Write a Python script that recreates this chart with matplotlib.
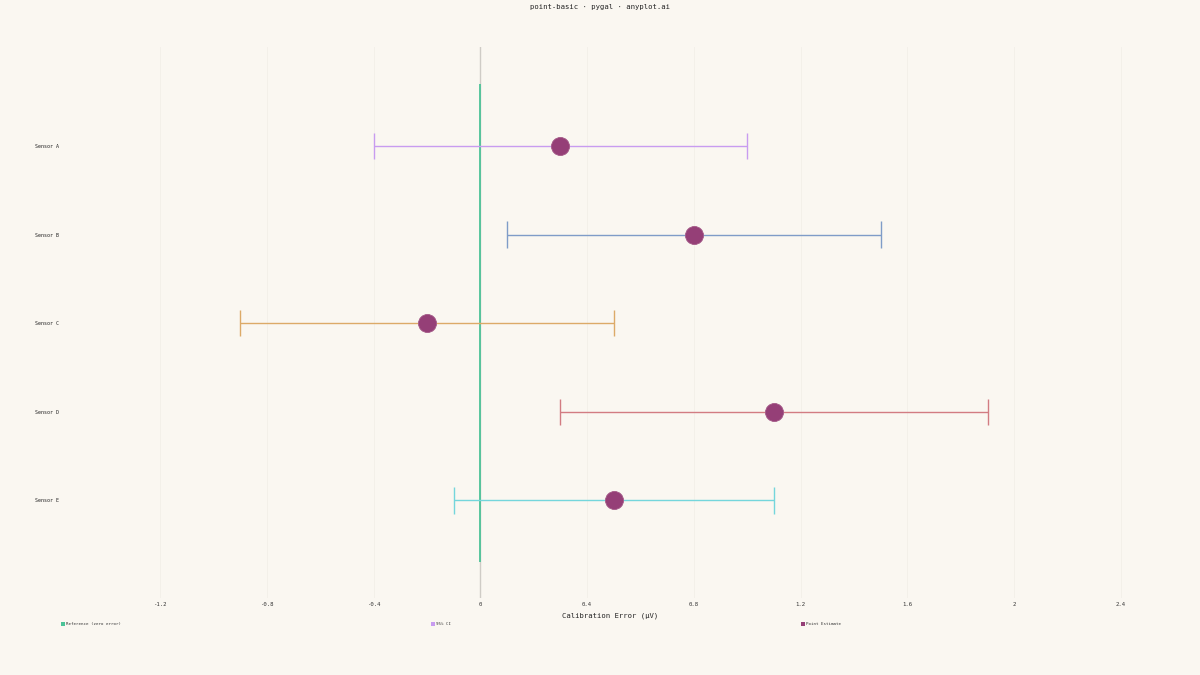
import matplotlib
matplotlib.use("Agg")
import matplotlib.pyplot as plt
from matplotlib.patches import Rectangle

# data
sensors = ["Sensor A", "Sensor B", "Sensor C", "Sensor D", "Sensor E"]
estimates = [0.3, 0.8, -0.2, 1.1, 0.5]
ci_low = [-0.4, 0.1, -0.9, 0.3, -0.1]
ci_high = [1.0, 1.5, 0.5, 1.9, 1.1]
xticks = [-1.2, -0.8, -0.4, 0, 0.4, 0.8, 1.2, 1.6, 2, 2.4]
xtick_labels = ["-1.2", "-0.8", "-0.4", "0", "0.4", "0.8", "1.2", "1.6", "2", "2.4"]

ci_colors = ["#c89cf0", "#7f9cc8", "#dcaa68", "#d27c82", "#74d6dc"]
bg = "#faf7f1"
point_color = "#953f77"
ref_color = "#4cc398"
mono = "DejaVu Sans Mono"

W, H = 1200, 675
fig = plt.figure(figsize=(12, 6.75), dpi=100, facecolor=bg)
# axes placed in pixel terms: left 60, right 1160, top 47, bottom 598
ax = fig.add_axes([60 / W, (H - 598) / H, 1100 / W, 551 / H])
ax.set_facecolor(bg)

ypos = list(range(1, len(sensors) + 1))
ax.set_xlim(-1.2 - 100 / 267, 2.4 + 39 / 267)
ax.set_ylim(1 + (598 - 146) / 88.6, 1 - (146 - 47) / 88.6)

# very faint vertical grid
for t in xticks:
    ax.axvline(t, color="#f2efe8", lw=0.6, zorder=0)
ax.axvline(0, color="#cfccc6", lw=1.0, zorder=1)

# reference line at zero
ax.vlines(0, ypos[0] - 0.7, ypos[-1] + 0.7, color=ref_color, lw=1.3, zorder=2)

for y, est, lo, hi, c in zip(ypos, estimates, ci_low, ci_high, ci_colors):
    ax.hlines(y, lo, hi, color=c, lw=1.0, zorder=3)
    ax.vlines([lo, hi], y - 0.15, y + 0.15, color=c, lw=1.0, zorder=3)
    ax.plot(est, y, "o", ms=13, color=point_color, mec="#a45a88", mew=0.6, zorder=4)

for s in ax.spines.values():
    s.set_visible(False)
ax.set_xticks(xticks)
ax.set_xticklabels(xtick_labels, fontsize=4.1, family=mono, color="#333333")
ax.set_yticks(ypos)
ax.set_yticklabels(sensors, fontsize=3.6, family=mono, color="#222222")
ax.tick_params(length=0, pad=3)
ax.tick_params(axis="y", pad=0)
for lab in ax.get_yticklabels():
    lab.set_horizontalalignment("left")
    lab.set_x(-(60 - 35) / 1100)

ax.set_xlabel("Calibration Error (μV)", fontsize=5.2, family=mono, color="#222222", labelpad=4)
fig.text(0.5, 1 - 7 / H, "point-basic · pygal · anyplot.ai", ha="center", va="center",
         fontsize=5.2, family=mono, color="#222222")

# legend row
legend_items = [("Reference (zero error)", ref_color), ("95% CI", "#c89cf0"), ("Point Estimate", point_color)]
for i, (name, c) in enumerate(legend_items):
    x0 = 61 + i * 370
    fig.patches.append(Rectangle((x0 / W, 1 - 626 / H), 4 / W, 4 / H, transform=fig.transFigure,
                                 facecolor=c, edgecolor="none"))
    fig.text((x0 + 5) / W, 1 - 624 / H, name, ha="left", va="center", fontsize=3.0,
             family=mono, color="#333333")

fig.savefig("out.png", dpi=100, facecolor=bg)
